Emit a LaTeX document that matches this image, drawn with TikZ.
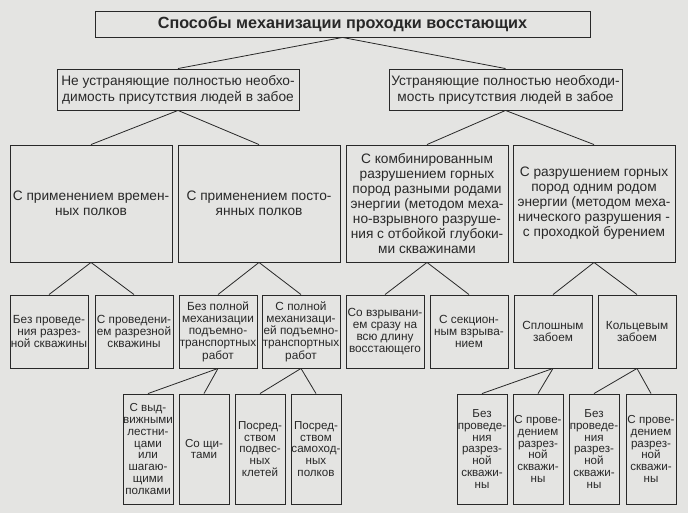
\documentclass[tikz,border=0pt]{standalone}
\usepackage{fontspec}
\setmainfont{Liberation Sans}

\definecolor{paper}{RGB}{228,228,226}
\definecolor{ink}{RGB}{40,40,40}

\tikzset{
    box/.style={draw=ink, line width=0.9pt, text=ink, align=center, inner sep=0pt},
    rootbox/.style={box, minimum width=495pt, minimum height=26pt, font=\fontsize{16.2}{18}\selectfont\bfseries},
    lvltwo/.style={box, minimum height=41pt, font=\fontsize{13.7}{16}\selectfont},
    lvlthree/.style={box, minimum width=162pt, minimum height=117pt, font=\fontsize{13.7}{15}\selectfont},
    lvlfour/.style={box, minimum width=78pt, minimum height=73pt, font=\fontsize{11.8}{12.2}\selectfont},
    lvlfive/.style={box, minimum width=50pt, minimum height=110pt, font=\fontsize{11.6}{11.8}\selectfont},
    link/.style={draw=ink, line width=0.8pt}
}

\begin{document}
\begin{tikzpicture}[x=1pt, y=-1pt]
    % Background and page size
    \fill[paper] (0,0) rectangle (688,513);
    \useasboundingbox (0,0) rectangle (688,513);

    % Title
    \node[rootbox] (root) at (342.5,24) {Способы механизации проходки восстающих};

    % Second level
    \node[lvltwo, minimum width=242pt] (partial) at (178,89.5) {Не устраняющие полностью необхо-\\димость присутствия людей в забое};
    \node[lvltwo, minimum width=233pt] (full) at (505.5,89.5) {Устраняющие полностью необходи-\\мость присутствия людей в забое};

    % Third level
    \node[lvlthree] (temp) at (91,203.5) {С применением времен-\\ных полков};
    \node[lvlthree] (perm) at (259,203.5) {С применением посто-\\янных полков};
    \node[lvlthree] (comb) at (427,203.5) {С комбинированным\\разрушением горных\\пород разными родами\\энергии (методом меха-\\но-взрывного разруше-\\ния с отбойкой глубоки-\\ми скважинами};
    \node[lvlthree] (mech) at (594,203.5) {С разрушением горных\\пород одним родом\\энергии (методом меха-\\нического разрушения -\\с проходкой бурением};

    % Fourth level
    \node[lvlfour] (noslot) at (49,331.5) {Без проведе-\\ния разрез-\\ной скважины};
    \node[lvlfour] (slot) at (134,331.5) {С проведени-\\ем разрезной\\скважины};
    \node[lvlfour] (nomech) at (218,331.5) {Без полной\\механизации\\подъемно-\\транспортных\\работ};
    \node[lvlfour] (fullmech) at (301,331.5) {С полной\\механизаци-\\ей подъемно-\\транспортных\\работ};
    \node[lvlfour] (oneblast) at (385,331.5) {Со взрывани-\\ем сразу на\\всю длину\\восстающего};
    \node[lvlfour] (secblast) at (469,331.5) {С секцион-\\ным взрыва-\\нием};
    \node[lvlfour] (solid) at (553,331.5) {Сплошным\\забоем};
    \node[lvlfour] (ring) at (637,331.5) {Кольцевым\\забоем};

    % Fifth level
    \node[lvlfive] (ladders) at (148,449) {С выд-\\вижными\\лестни-\\цами\\или\\шагаю-\\щими\\полками};
    \node[lvlfive] (shields) at (204,449) {Со щи-\\тами};
    \node[lvlfive] (cages) at (260,449) {Посред-\\ством\\подвес-\\ных\\клетей};
    \node[lvlfive] (selfprop) at (316,449) {Посред-\\ством\\самоход-\\ных\\полков};
    \node[lvlfive] (solidno) at (482,449) {Без\\проведе-\\ния\\разрез-\\ной\\скважи-\\ны};
    \node[lvlfive] (solidyes) at (538,449) {С прове-\\дением\\разрез-\\ной\\скважи-\\ны};
    \node[lvlfive] (ringno) at (594,449) {Без\\проведе-\\ния\\разрез-\\ной\\скважи-\\ны};
    \node[lvlfive] (ringyes) at (651,449) {С прове-\\дением\\разрез-\\ной\\скважи-\\ны};

    % Connectors
    \foreach \a/\b in {root/partial, root/full,
                       partial/temp, partial/perm, full/comb, full/mech,
                       temp/noslot, temp/slot, perm/nomech, perm/fullmech,
                       comb/oneblast, comb/secblast, mech/solid, mech/ring,
                       nomech/ladders, nomech/shields, fullmech/cages, fullmech/selfprop,
                       solid/solidno, solid/solidyes, ring/ringno, ring/ringyes}
        \draw[link] (\a.south) -- (\b.north);
\end{tikzpicture}
\end{document}
